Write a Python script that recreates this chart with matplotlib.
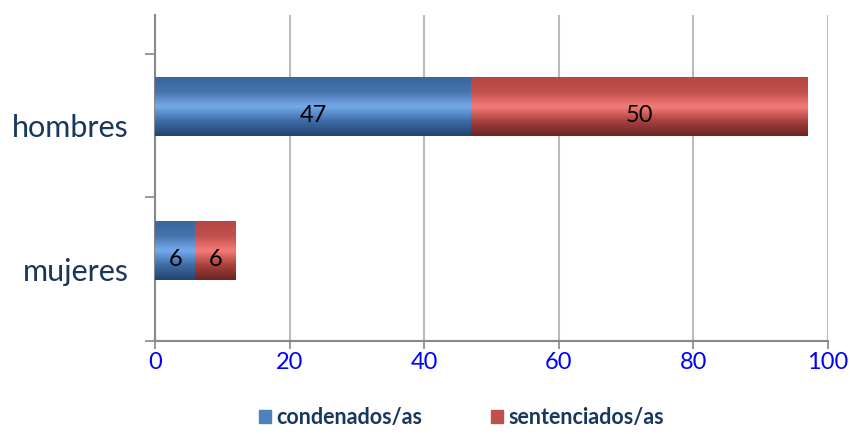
import numpy as np
import matplotlib
matplotlib.use("Agg")
import matplotlib.pyplot as plt
from matplotlib.colors import LinearSegmentedColormap

# datos
categorias = ['mujeres', 'hombres']
condenados = [6, 47]
sentenciados = [6, 50]
ticks_x = [0, 20, 40, 60, 80, 100]

plt.rcParams['font.family'] = ['Lato', 'DejaVu Sans']

fig = plt.figure(figsize=(8.5, 4.34), dpi=100)
ax = fig.add_axes([0.1824, 0.2143, 0.974 - 0.1824, 0.9654 - 0.2143])

pos = np.arange(len(categorias))
desplaz = 0.13  # las barras quedan algo por encima del centro de la categoria
alto = 0.405

b1 = ax.barh(pos + desplaz, condenados, height=alto, color='#4F81BD', zorder=3)
b2 = ax.barh(pos + desplaz, sentenciados, left=condenados, height=alto,
             color='#C0504D', zorder=3)

# degradado tipo Excel
cmap_azul = LinearSegmentedColormap.from_list('az', ['#23446E', '#3D6CA6', '#74AAEC', '#4774AE', '#3A66A0'])
cmap_rojo = LinearSegmentedColormap.from_list('ro', ['#6A2523', '#A8403D', '#F47C79', '#C1504D', '#B64744'])
grad = np.linspace(0, 1, 100).reshape(-1, 1)
for barras, cm in ((b1, cmap_azul), (b2, cmap_rojo)):
    for p in barras:
        x0, y0 = p.get_x(), p.get_y()
        w, h = p.get_width(), p.get_height()
        ax.imshow(grad, cmap=cm, aspect='auto', extent=(x0, x0 + w, y0, y0 + h),
                  origin='lower', zorder=4, interpolation='bicubic')

for barras, vals in ((b1, condenados), (b2, sentenciados)):
    for p, v in zip(barras, vals):
        ax.text(p.get_x() + p.get_width() / 2, p.get_y() + p.get_height() / 2 - 0.06,
                str(v), ha='center', va='center', fontsize=17, color='black', zorder=5)

ax.set_xlim(0, 100)
ax.set_ylim(-0.5, 1.77)
ax.set_xticks(ticks_x)
ax.set_xticklabels([str(t) for t in ticks_x], color='#0000FF', fontsize=17)
ax.set_yticks(pos)
ax.set_yticklabels(categorias, color='#17375E', fontsize=22)
ax.tick_params(axis='y', length=0, pad=19)
ax.set_yticks([-0.5, 0.5, 1.5], minor=True)
ax.tick_params(axis='y', which='minor', length=7, color='#888888', width=1.2)
ax.tick_params(axis='x', length=6, color='#888888', width=1.2, pad=2)

ax.grid(axis='x', color='#BBBBBB', linewidth=1.5, zorder=0)
for s in ('top', 'right'):
    ax.spines[s].set_visible(False)
ax.spines['left'].set_color('#888888')
ax.spines['left'].set_linewidth(1.5)
ax.spines['bottom'].set_color('#888888')
ax.spines['bottom'].set_linewidth(1.5)

leg = fig.legend(handles=[plt.Rectangle((0, 0), 1, 1, color='#4F81BD'),
                          plt.Rectangle((0, 0), 1, 1, color='#C0504D')],
                 labels=['condenados/as', 'sentenciados/as'],
                 loc='lower center', bbox_to_anchor=(0.543, -0.03), ncol=2, frameon=False,
                 handlelength=0.55, handleheight=0.55, handletextpad=0.25, columnspacing=3.2,
                 prop={'weight': 'bold', 'size': 15.5})
for t in leg.get_texts():
    t.set_color('#17375E')

fig.savefig('out.png', dpi=100)
